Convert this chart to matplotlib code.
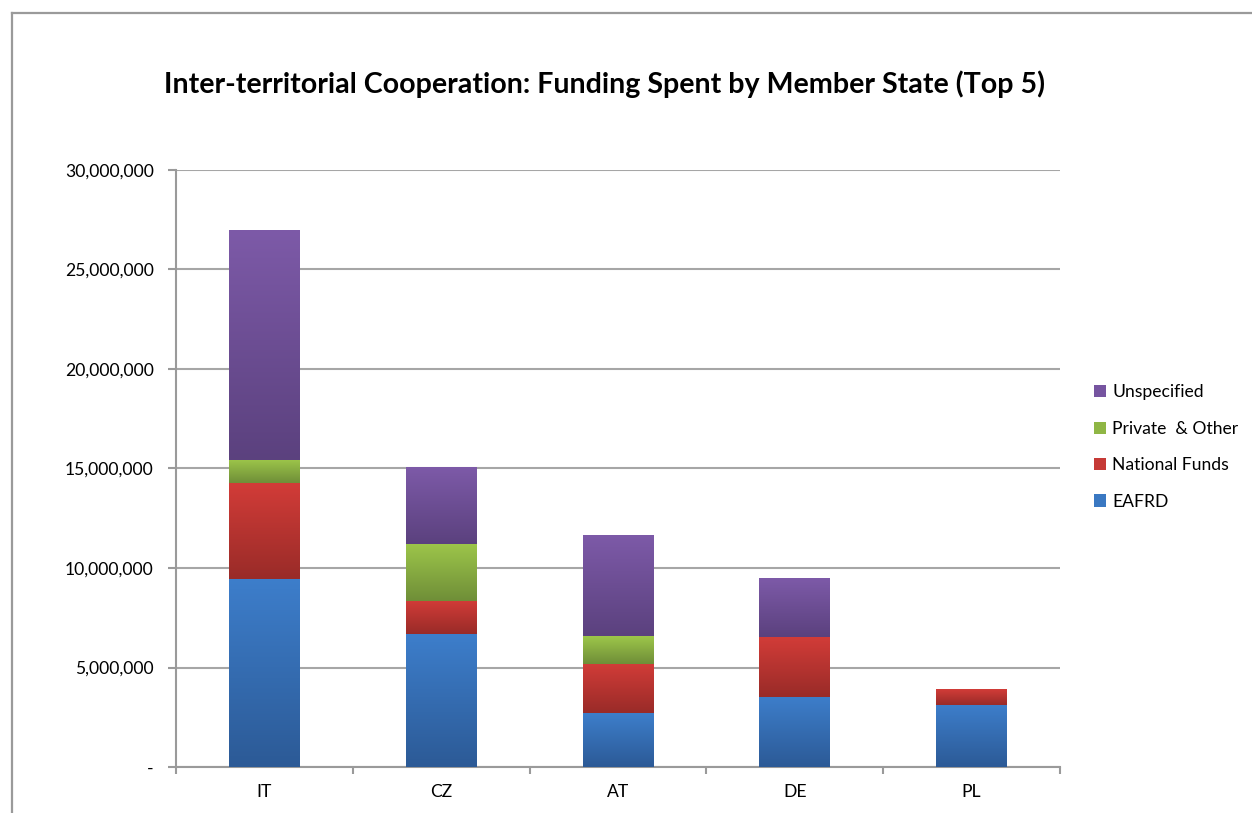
import matplotlib
matplotlib.use("Agg")
import matplotlib.pyplot as plt
import numpy as np
from matplotlib.colors import LinearSegmentedColormap
from matplotlib.patches import Patch
from matplotlib.ticker import FuncFormatter, MultipleLocator
from matplotlib.lines import Line2D

plt.rcParams['font.family'] = ['Lato', 'DejaVu Sans']

countries = ["IT", "CZ", "AT", "DE", "PL"]
series_names = ["EAFRD", "National Funds", "Private  & Other", "Unspecified"]
eafrd = [9450000, 6680000, 2710000, 3520000, 3120000]
national = [4820000, 1660000, 2470000, 3010000, 800000]
private = [1160000, 2870000, 1400000, 0, 0]
unspecified = [11550000, 3820000, 5030000, 2920000, 0]
series = [eafrd, national, private, unspecified]

top_colors = ["#3D7ECB", "#D23C38", "#9DC64A", "#7D5AA8"]
bottom_colors = ["#2C5A96", "#992B28", "#6F8E38", "#5B417E"]
legend_colors = ["#3A78C2", "#C63A36", "#8FB645", "#7654A0"]

W, H = 1252, 813
fig = plt.figure(figsize=(W / 100, H / 100), dpi=100)
ax = fig.add_axes([176 / W, 1 - 767 / H, (1060 - 176) / W, (767 - 170) / H])

# outer frame (left and top edges visible)
fig.add_artist(Line2D([12 / W, 12 / W], [0, 1 - 13 / H], transform=fig.transFigure,
                      color="#9a9a9a", lw=1.6))
fig.add_artist(Line2D([12 / W, 1], [1 - 13 / H, 1 - 13 / H], transform=fig.transFigure,
                      color="#9a9a9a", lw=1.6))

x = np.arange(len(countries))
width = 0.40
bottom = np.zeros(len(countries))
grad = np.linspace(1, 0, 256).reshape(-1, 1)
for vals, c_top, c_bot in zip(series, top_colors, bottom_colors):
    vals = np.array(vals, dtype=float)
    bars = ax.bar(x, vals, width, bottom=bottom, color=c_top, edgecolor="none", zorder=3)
    cmap = LinearSegmentedColormap.from_list("g", [c_bot, c_top])
    for b in bars:
        if b.get_height() <= 0:
            continue
        x0, y0 = b.get_x(), b.get_y()
        x1, y1 = x0 + b.get_width(), y0 + b.get_height()
        ax.imshow(grad, extent=(x0, x1, y0, y1), aspect="auto", cmap=cmap,
                  origin="upper", zorder=4, interpolation="bicubic")
    bottom += vals

ax.set_xlim(-0.5, len(countries) - 0.5)
ax.set_ylim(0, 30000000)
ax.yaxis.set_major_locator(MultipleLocator(5000000))
ax.yaxis.set_major_formatter(FuncFormatter(lambda v, p: "-" if v == 0 else f"{int(v):,}"))
ax.set_xticks(x)
ax.set_xticklabels(countries)
ax.set_xticks(np.arange(-0.5, len(countries), 1.0), minor=True)
ax.tick_params(axis="x", which="major", length=0, pad=12, labelsize=12.6)
ax.tick_params(axis="x", which="minor", length=5, width=1.5, color="#9a9a9a", direction="out")
ax.tick_params(axis="y", length=6, width=1.5, color="#9a9a9a", pad=10, labelsize=12.6)

ax.grid(axis="y", color="#a6a6a6", lw=1.5, zorder=0)
ax.set_axisbelow(True)
for s in ["top", "right"]:
    ax.spines[s].set_visible(False)
for s in ["left", "bottom"]:
    ax.spines[s].set_color("#9a9a9a")
    ax.spines[s].set_linewidth(1.5)

fig.text(605 / W, 1 - 84 / H, "Inter-territorial Cooperation: Funding Spent by Member State (Top 5)",
         ha="center", va="center", fontsize=20.6, fontweight="bold", color="black")

handles = [Patch(facecolor=c, edgecolor="none") for c in legend_colors]
leg = fig.legend(handles[::-1], series_names[::-1], loc="center left",
                 bbox_to_anchor=(1078 / W, 1 - 447 / H), frameon=False, fontsize=12.6,
                 handlelength=0.7, handleheight=0.7, handletextpad=0.35, labelspacing=1.17)

fig.savefig("out.png", dpi=100, facecolor="white")
